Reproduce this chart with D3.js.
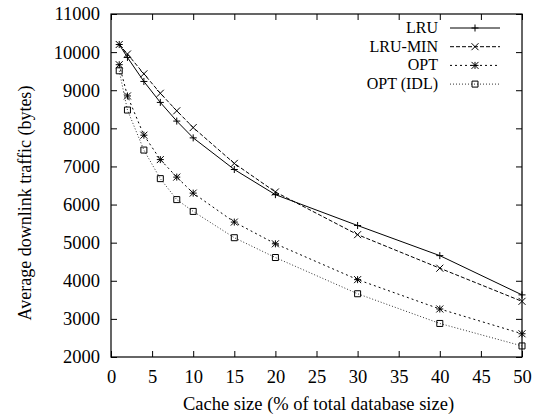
<!DOCTYPE html>
<html>
<head>
<meta charset="utf-8">
<script src="https://cdn.jsdelivr.net/npm/d3@7"></script>
<style>
  body { margin: 0; background: #fff; }
  svg { display: block; }
  text { font-family: "Liberation Serif", "Times New Roman", serif; fill: #000; }
</style>
</head>
<body>
<svg id="chart" width="536" height="417"></svg>
<script>
// cache sizes (% of database)
let cacheSizes = [1, 2, 4, 6, 8, 10, 15, 20, 30, 40, 50];

// average downlink traffic (bytes)
let lru    = [10200, 9860, 9230, 8680, 8190, 7750, 6920, 6260, 5450, 4660, 3630];
let lruMin = [10200, 9950, 9430, 8920, 8460, 8020, 7080, 6330, 5210, 4330, 3460];
let opt    = [9670, 8850, 7820, 7180, 6720, 6300, 5540, 4970, 4030, 3260, 2610];
let optIdl = [9510, 8480, 7430, 6680, 6130, 5820, 5130, 4610, 3660, 2880, 2290];

let seriesNames = ['LRU', 'LRU-MIN', 'OPT', 'OPT (IDL)'];
let xTicks = [0, 5, 10, 15, 20, 25, 30, 35, 40, 45, 50];
let yTicks = [2000, 3000, 4000, 5000, 6000, 7000, 8000, 9000, 10000, 11000];

let series = [
    { name: seriesNames[0], values: lru,    dash: null,  marker: 'plus' },
    { name: seriesNames[1], values: lruMin, dash: '4,2', marker: 'cross' },
    { name: seriesNames[2], values: opt,    dash: '2,3', marker: 'star' },
    { name: seriesNames[3], values: optIdl, dash: '1,2', marker: 'box' }
];

let svg = d3.select('#chart');
let pLeft = 111, pRight = 522, pTop = 14, pBottom = 357;
let fontSize = '18.5px';

let x = d3.scaleLinear().domain([0, 50]).range([pLeft, pRight]);
let y = d3.scaleLinear().domain([2000, 11000]).range([pBottom, pTop]);

// axes, ticks pointing into the plot like gnuplot
function styleAxis(g) {
    g.select('.domain').remove();
    g.selectAll('.tick line').attr('stroke', '#000').attr('stroke-width', 1);
    g.selectAll('.tick text').style('font-size', fontSize);
}

svg.append('g')
    .attr('transform', 'translate(0,' + pBottom + ')')
    .call(d3.axisBottom(x).tickValues(xTicks).tickSize(-6).tickPadding(13))
    .call(styleAxis);
svg.append('g')
    .attr('transform', 'translate(0,' + pTop + ')')
    .call(d3.axisTop(x).tickValues(xTicks).tickSize(-6).tickFormat(''))
    .call(styleAxis);
svg.append('g')
    .attr('transform', 'translate(' + pLeft + ',0)')
    .call(d3.axisLeft(y).tickValues(yTicks).tickSize(-6).tickPadding(11).tickFormat(d3.format('d')))
    .call(styleAxis);
svg.append('g')
    .attr('transform', 'translate(' + pRight + ',0)')
    .call(d3.axisRight(y).tickValues(yTicks).tickSize(-6).tickFormat(''))
    .call(styleAxis);

// frame
svg.append('rect')
    .attr('x', pLeft).attr('y', pTop)
    .attr('width', pRight - pLeft).attr('height', pBottom - pTop)
    .attr('fill', 'none').attr('stroke', '#000').attr('stroke-width', 1.2);

// axis titles
svg.append('text')
    .attr('x', (pLeft + pRight) / 2 + 2).attr('y', 410)
    .attr('text-anchor', 'middle')
    .style('font-size', fontSize)
    .text('Cache size (% of total database size)');
svg.append('text')
    .attr('transform', 'translate(31,203) rotate(-90)')
    .attr('text-anchor', 'middle')
    .style('font-size', '18px')
    .text('Average downlink traffic (bytes)');

function drawMarker(g, type, cx, cy) {
    let s = 3.5;
    let p = d3.path();
    if (type === 'plus' || type === 'star') {
        p.moveTo(cx - s, cy); p.lineTo(cx + s, cy);
        p.moveTo(cx, cy - s); p.lineTo(cx, cy + s);
    }
    if (type === 'cross' || type === 'star') {
        p.moveTo(cx - s, cy - s); p.lineTo(cx + s, cy + s);
        p.moveTo(cx - s, cy + s); p.lineTo(cx + s, cy - s);
    }
    if (type === 'box') {
        p.rect(cx - 3, cy - 3, 6, 6);
    }
    g.append('path').attr('d', p.toString())
        .attr('fill', 'none').attr('stroke', '#000').attr('stroke-width', 1);
}

let line = d3.line()
    .x(function(d, i) { return x(cacheSizes[i]); })
    .y(function(d) { return y(d); });

series.forEach(function(s, k) {
    let g = svg.append('g');
    g.append('path')
        .attr('d', line(s.values))
        .attr('fill', 'none')
        .attr('stroke', k === 3 ? '#333' : '#000')
        .attr('stroke-width', 1)
        .attr('stroke-dasharray', s.dash);
    s.values.forEach(function(v, i) {
        drawMarker(g, s.marker, x(cacheSizes[i]), y(v));
    });

    // legend entry
    let base = 33 + k * 18.7;
    svg.append('text')
        .attr('x', 438).attr('y', base)
        .attr('text-anchor', 'end')
        .style('font-size', '16px')
        .text(s.name);
    svg.append('line')
        .attr('x1', 450).attr('x2', 500).attr('y1', base - 5).attr('y2', base - 5)
        .attr('stroke', k === 3 ? '#333' : '#000')
        .attr('stroke-width', 1)
        .attr('stroke-dasharray', s.dash);
    drawMarker(svg, s.marker, 475, base - 5);
});
</script>
</body>
</html>
